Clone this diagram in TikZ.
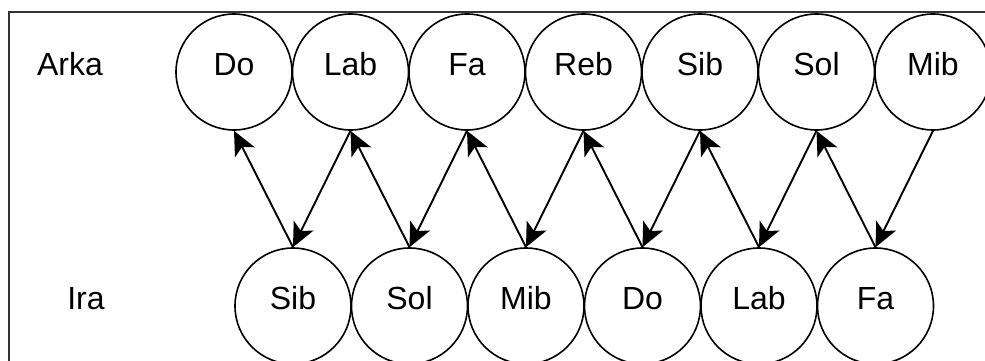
\documentclass[tikz,border=0pt]{standalone}
\usepackage{fontspec}
\setmainfont{Liberation Sans}
\usetikzlibrary{arrows.meta}
\tikzset{
  note/.style={circle, draw=black, line width=1.6pt, minimum size=116pt, inner sep=0pt,
    font=\fontsize{32}{36}\selectfont, text height=0.72em, text depth=0pt},
  rowlabel/.style={font=\fontsize{32}{36}\selectfont, text height=0.72em, text depth=0pt, inner sep=0pt},
  link/.style={line width=1.9pt, -{Stealth[length=24pt, width=22pt, inset=6pt]}},
  frame/.style={draw=black!80, line width=1.8pt}
}
\begin{document}
\begin{tikzpicture}[x=1pt, y=-1pt]
\useasboundingbox (0,0) rectangle (985,361);
\clip (0,0) rectangle (985,361);
\draw[frame] (9,12) rectangle (1010,400);
\node[rowlabel] (arka) at (70,72) {Arka};
\node[rowlabel] (ira) at (86,306) {Ira};
% top row
\node[note] (tDo)  at (234,72)   {Do};
\node[note] (tLab) at (350.5,72) {Lab};
\node[note] (tFa)  at (467,72)   {Fa};
\node[note] (tReb) at (583.5,72) {Reb};
\node[note] (tSib) at (700,72)   {Sib};
\node[note] (tSol) at (816.5,72) {Sol};
\node[note] (tMib) at (933,72)   {Mib};
% bottom row
\node[note] (bSib) at (293,306)   {Sib};
\node[note] (bSol) at (409.5,306) {Sol};
\node[note] (bMib) at (526,306)   {Mib};
\node[note] (bDo)  at (642.5,306) {Do};
\node[note] (bLab) at (759,306)   {Lab};
\node[note] (bFa)  at (875.5,306) {Fa};
% connectors
\draw[link] (bSib.north) -- (tDo.south);
\draw[link] (tLab.south) -- (bSib.north);
\draw[link] (bSol.north) -- (tLab.south);
\draw[link] (tFa.south) -- (bSol.north);
\draw[link] (bMib.north) -- (tFa.south);
\draw[link] (tReb.south) -- (bMib.north);
\draw[link] (bDo.north) -- (tReb.south);
\draw[link] (tSib.south) -- (bDo.north);
\draw[link] (bLab.north) -- (tSib.south);
\draw[link] (tSol.south) -- (bLab.north);
\draw[link] (bFa.north) -- (tSol.south);
\draw[link] (tMib.south) -- (bFa.north);
\end{tikzpicture}
\end{document}
